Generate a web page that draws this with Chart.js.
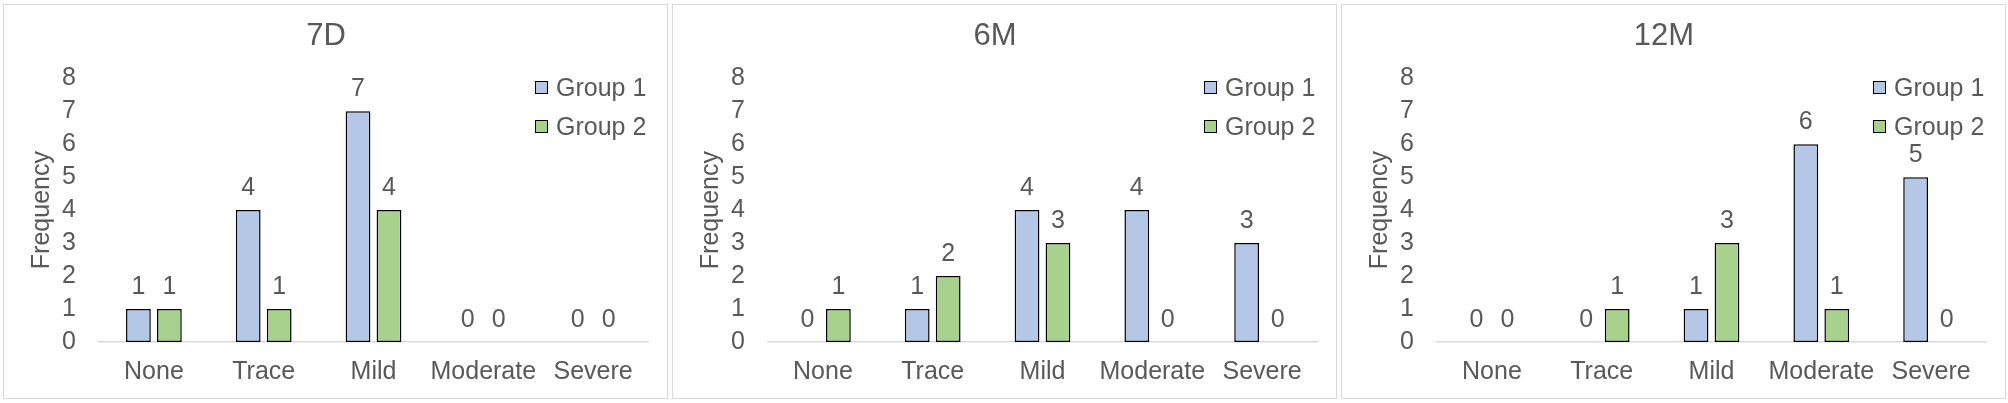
<!DOCTYPE html>
<html>
<head>
<meta charset="utf-8">
<script src="https://cdn.jsdelivr.net/npm/chart.js@4.4.1/dist/chart.umd.min.js"></script>
<style>
  body { margin: 0; background: #fff; font-family: "Liberation Sans", Arial, sans-serif; }
  .panel { position: absolute; top: 4px; width: 663px; height: 393px; border: 1px solid #d9d9d9; }
  .panel canvas { position: absolute; left: 0; top: 0; }
  .legend { position: absolute; left: 531px; top: 0; color: #595959; font-size: 25px; }
  .legend .item { position: absolute; left: 0; white-space: nowrap; line-height: 28px; height: 28px; }
  .legend .box { display: inline-block; width: 11px; height: 11px; border: 1.5px solid #000; vertical-align: middle; margin-right: 8px; position: relative; top: -2px; }
</style>
</head>
<body>
<div class="panel" id="p0" style="left:3px"><canvas id="c0" width="663" height="393"></canvas></div>
<div class="panel" id="p1" style="left:672px"><canvas id="c1" width="663" height="393"></canvas></div>
<div class="panel" id="p2" style="left:1341px"><canvas id="c2" width="663" height="393"></canvas></div>
<script>
const categories = ['None', 'Trace', 'Mild', 'Moderate', 'Severe'];
const panelTitles = ['7D', '6M', '12M'];
const seriesNames = ['Group 1', 'Group 2'];
const seriesColors = ['#b4c7e7', '#a9d18e'];

const group1_7D = [1, 4, 7, 0, 0];
const group2_7D = [1, 1, 4, 0, 0];
const group1_6M = [0, 1, 4, 4, 3];
const group2_6M = [1, 2, 3, 0, 0];
const group1_12M = [0, 0, 1, 6, 5];
const group2_12M = [0, 1, 3, 1, 0];

const yMax = 8;
const yTitle = 'Frequency';

const panelData = [
  [group1_7D, group2_7D],
  [group1_6M, group2_6M],
  [group1_12M, group2_12M]
];

const textColor = '#595959';
const fontFamily = '"Liberation Sans", Arial, sans-serif';

// etichette con il valore sopra ogni barra
const valueLabels = {
  id: 'valueLabels',
  afterDatasetsDraw(chart) {
    const ctx = chart.ctx;
    ctx.save();
    ctx.font = '25px ' + fontFamily;
    ctx.fillStyle = textColor;
    ctx.textAlign = 'center';
    ctx.textBaseline = 'middle';
    chart.data.datasets.forEach((ds, i) => {
      chart.getDatasetMeta(i).data.forEach((bar, j) => {
        ctx.fillText(String(ds.data[j]), bar.x, bar.y - 22);
      });
    });
    ctx.restore();
  }
};

panelData.forEach((series, p) => {
  new Chart(document.getElementById('c' + p), {
    type: 'bar',
    data: {
      labels: categories,
      datasets: series.map((values, k) => ({
        label: seriesNames[k],
        data: values,
        backgroundColor: seriesColors[k],
        borderColor: '#000',
        borderWidth: 1.5,
        borderSkipped: false,
        categoryPercentage: 0.564,
        barPercentage: 0.8
      }))
    },
    options: {
      responsive: false,
      animation: false,
      layout: { padding: { left: 0, right: 19, top: 0, bottom: 0 } },
      plugins: {
        legend: { display: false },
        tooltip: { enabled: false },
        title: {
          display: true,
          text: panelTitles[p],
          color: textColor,
          font: { family: fontFamily, size: 31, weight: 'normal' },
          padding: { top: 13, bottom: 23 }
        }
      },
      scales: {
        x: {
          grid: { display: false, drawTicks: false },
          border: { display: true, color: '#d9d9d9', width: 1.5 },
          ticks: {
            color: textColor,
            font: { family: fontFamily, size: 25 },
            padding: 15,
            autoSkip: false,
            maxRotation: 0
          },
          afterFit: scale => { scale.height = 56; }
        },
        y: {
          min: 0,
          max: yMax,
          grid: { display: false, drawTicks: false },
          border: { display: false },
          ticks: {
            stepSize: 1,
            autoSkip: false,
            color: textColor,
            font: { family: fontFamily, size: 25 },
            padding: 23
          },
          title: {
            display: true,
            text: yTitle,
            color: textColor,
            font: { family: fontFamily, size: 25 },
            padding: { top: 23, bottom: 0 }
          },
          afterFit: scale => { scale.width = 95; }
        }
      }
    },
    plugins: [valueLabels]
  });

  // legenda sovrapposta all'area del grafico, come nell'originale
  const legend = document.createElement('div');
  legend.className = 'legend';
  seriesNames.forEach((name, k) => {
    const item = document.createElement('div');
    item.className = 'item';
    item.style.top = (68 + k * 39) + 'px';
    item.innerHTML = '<span class="box" style="background:' + seriesColors[k] + '"></span>' + name;
    legend.appendChild(item);
  });
  document.getElementById('p' + p).appendChild(legend);
});
</script>
</body>
</html>
